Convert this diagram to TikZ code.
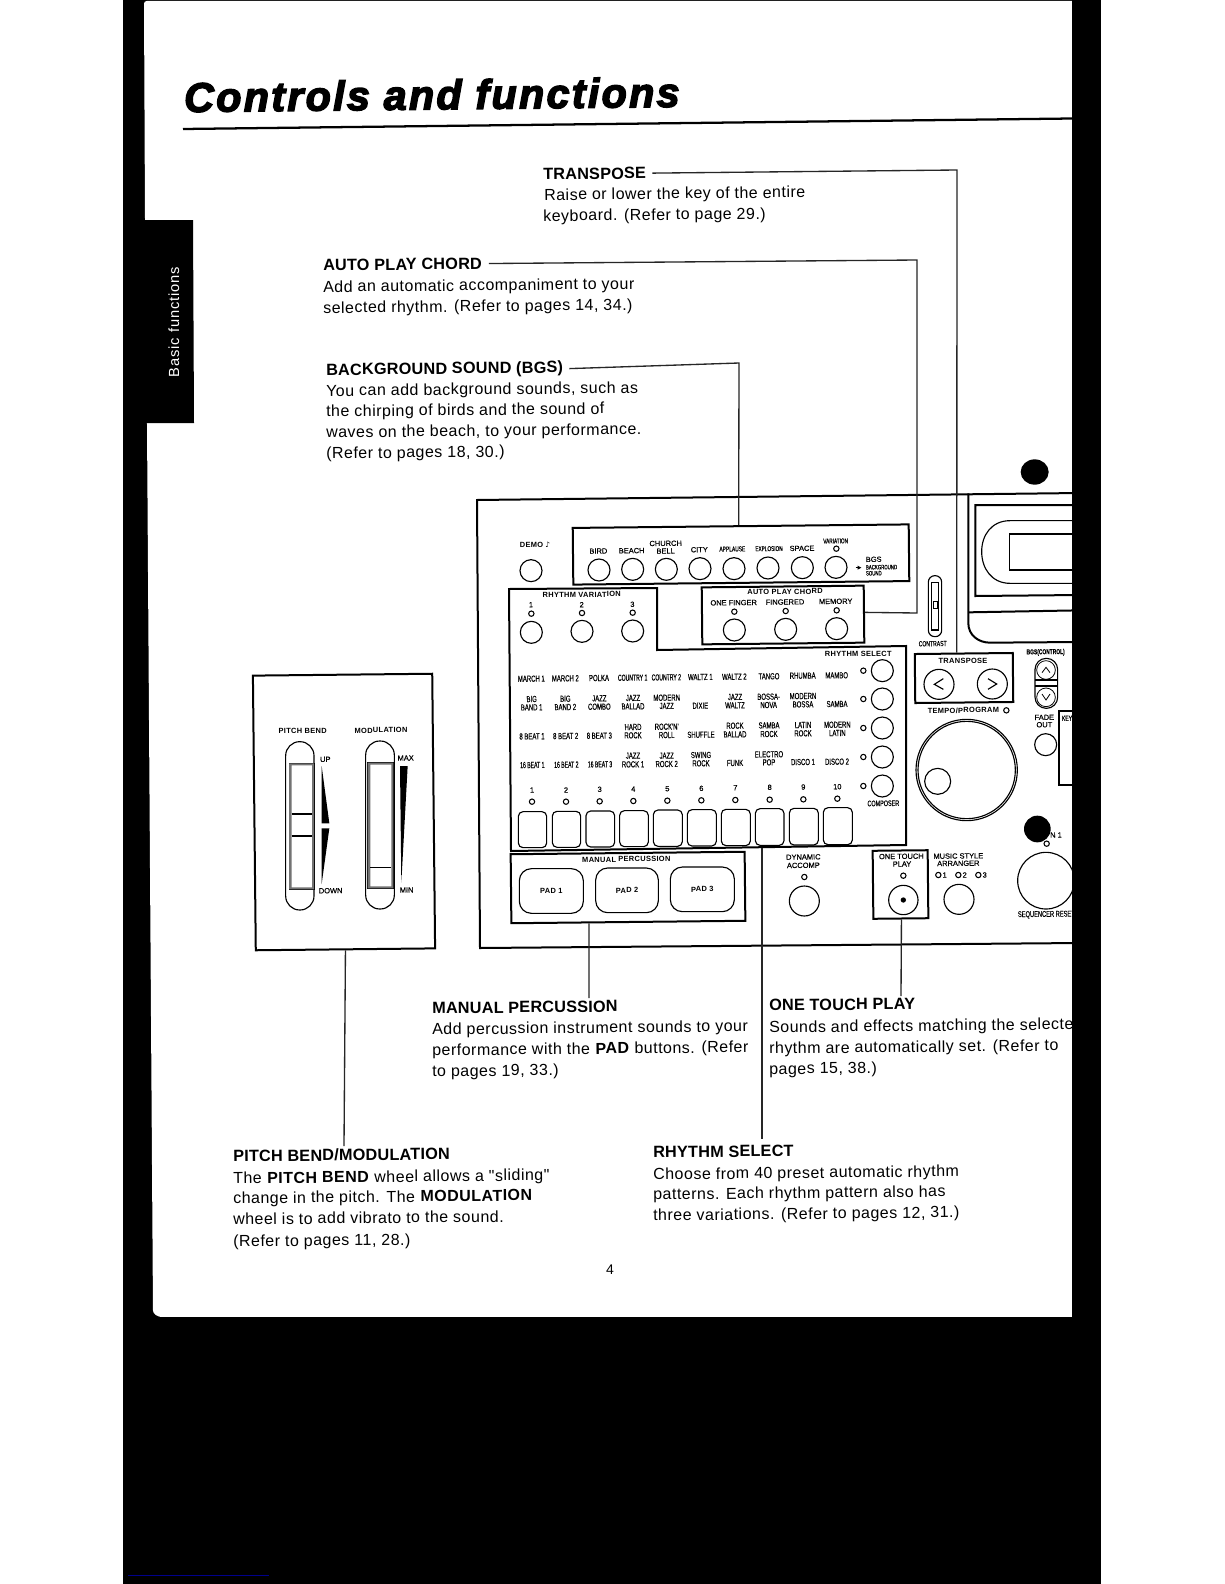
\documentclass[tikz,border=0pt]{standalone}
\usepackage{fontspec}
\usetikzlibrary{calc}
\setmainfont{Liberation Sans}
\newfontfamily\titlef[FakeBold=3.5,LetterSpace=5.5]{Liberation Sans Bold Italic}
\newfontfamily\bodyf[LetterSpace=3.1]{Liberation Sans}
\newfontfamily\headf[LetterSpace=1.2]{Liberation Sans}
\newfontfamily\semif[FakeBold=.5]{Liberation Sans}
\newfontfamily\smallf[LetterSpace=4]{Liberation Sans}
\newfontfamily\narrowf[FakeStretch=.68,FakeBold=.3]{Liberation Sans}
\newfontfamily\narrowerf[FakeStretch=.58,FakeBold=.3]{Liberation Sans}
\newfontfamily\tabf[LetterSpace=6]{Liberation Sans}
\newfontfamily\symf{DejaVu Sans}
\newcounter{nc}
\tikzset{
 bodytext/.style={anchor=base west,inner sep=0pt,rotate=.6,yshift=-.6pt,font=\fontsize{12pt}{14pt}\bodyf},
 headtext/.style={bodytext,font=\fontsize{12.2pt}{14pt}\headf\bfseries},
 tiny/.style={inner sep=0pt,rotate=.6,font=\fontsize{5.6pt}{6pt}\semif},
 tinyb/.style={inner sep=0pt,rotate=.6,font=\fontsize{5.6pt}{6pt}\smallf\bfseries},
 grid/.style={inner sep=0pt,rotate=.6,font=\fontsize{6.6pt}{7pt}\narrowf},
 gridn/.style={inner sep=0pt,rotate=.6,font=\fontsize{6.6pt}{7pt}\narrowerf},
 heavy/.style={line width=1.5pt,black},
 thin1/.style={line width=.85pt,black},
 conn/.style={line width=1pt,black!85},
 panelbox/.style={draw,line width=1.5pt,inner sep=0pt,rotate=.6},
 led/.style={line width=.8pt,draw=black,fill=white},
 btn/.style={line width=.85pt,draw=black,fill=white},
 zoomA/.style={shift={(470,490)},x=.25pt,y=-.25pt},
 zoomB/.style={shift={(470,760)},x=.25pt,y=-.25pt},
 zoomC/.style={shift={(900,450)},x=.25pt,y=-.25pt},
 zoomD/.style={shift={(240,660)},x=.25pt,y=-.25pt},
}
\newcommand\bl[3]{\stepcounter{nc}\node[bodytext] (b\arabic{nc}) at (#1,#2) {#3};}
\newcommand\tl[4][tiny]{\stepcounter{nc}\node[#1] (s\arabic{nc}) at (#2,#3) {#4};}
\begin{document}
\begin{tikzpicture}[x=.75pt,y=-.75pt]
\useasboundingbox (0,0) rectangle (1224,1584);
% page
\fill[white] (0,0) rectangle (1224,1584);
\fill[black] (123,0) rectangle (1101,1584);
\fill[white,rounded corners=2pt] (144,1) -- (1085,1) -- (1085,1330) -- (1085,1317) -- (159,1317) -- (153,1313) -- (147,424) -- (145,219) -- cycle;
\fill[black] (144,220) -- (193,220) -- (194,423) -- (145,423) -- cycle;
\node[inner sep=0pt,rotate=90,anchor=base,text=white,font=\fontsize{11pt}{12pt}\tabf] (tabtext) at (179,322) {Basic functions};
% title
\node[inner sep=0pt,anchor=base west,rotate=.6,font=\fontsize{31pt}{34pt}\titlef] (title) at (184,112) {Controls and functions};
\draw[line width=1.7pt] (183,129) -- (1072,118.5);

% text blocks
\node[headtext] (lTR) at (543,179) {TRANSPOSE};
\bl{544}{199.5}{Raise or lower the key of the entire}
\bl{543}{220.5}{keyboard. (Refer to page 29.)}
\node[headtext] (lAP) at (323,270) {AUTO PLAY CHORD};
\bl{323}{291.5}{Add an automatic accompaniment to your}
\bl{323}{312.5}{selected rhythm. (Refer to pages 14, 34.)}
\node[headtext] (lBG) at (326,374.5) {BACKGROUND SOUND (BGS)};
\bl{326}{395.5}{You can add background sounds, such as}
\bl{326}{416}{the chirping of birds and the sound of}
\bl{326}{437}{waves on the beach, to your performance.}
\bl{326}{458}{(Refer to pages 18, 30.)}
\node[headtext] (lMP) at (432,1013) {MANUAL PERCUSSION};
\bl{432}{1034}{Add percussion instrument sounds to your}
\bl{432}{1055}{performance with the \textbf{PAD} buttons. (Refer}
\bl{432}{1076}{to pages 19, 33.)}
\node[headtext] (lOT) at (769,1010) {ONE TOUCH PLAY};
\bl{769}{1032}{Sounds and effects matching the selecte}
\bl{769}{1053}{rhythm are automatically set. (Refer to}
\bl{769}{1073.5}{pages 15, 38.)}
\node[headtext] (lPB) at (233,1161) {PITCH BEND/MODULATION};
\bl{233}{1183}{The \textbf{PITCH BEND} wheel allows a "sliding"}
\bl{233}{1203}{change in the pitch. The \textbf{MODULATION}}
\bl{233}{1224}{wheel is to add vibrato to the sound.}
\bl{233}{1246}{(Refer to pages 11, 28.)}
\node[headtext] (lRS) at (653,1157) {RHYTHM SELECT};
\bl{653}{1179}{Choose from 40 preset automatic rhythm}
\bl{653}{1199}{patterns. Each rhythm pattern also has}
\bl{653}{1220}{three variations. (Refer to pages 12, 31.)}
\node[inner sep=0pt,font=\fontsize{10.5pt}{12pt}\selectfont] (pageno) at (610,1270) {4};

% main panel outline
\draw[heavy] (1080,493) -- (477,500) -- (480,948) -- (1080,943);
% boxes
\node[panelbox,minimum width=252pt,minimum height=42.5pt] (bgsbox) at (741,554.5) {};
\node[panelbox,minimum width=121.5pt,minimum height=42.75pt] (apcbox) at (783,615) {};
\node[panelbox,minimum width=175.5pt,minimum height=51.75pt] (mpbox) at (628,887.5) {};
\node[panelbox,minimum width=41.25pt,minimum height=51pt] (otbox) at (900.5,884.5) {};
\node[panelbox,minimum width=73.5pt,minimum height=36.75pt] (trbox) at (964,678) {};
\node[panelbox,minimum width=134.5pt,minimum height=206pt] (pbbox) at (344,812) {};
\draw[heavy] (509,589) -- (657,588) -- (657,650) -- (906,646) -- (906,845) -- (511,851) -- cycle;
\coordinate (rsedge) at (762,848);

% connectors
\coordinate (mpend) at (589,998);
\coordinate (otend) at (901,996);
\coordinate (pbend) at (344,1146);
\coordinate (rsend) at (762,1139);
\draw[conn] ([xshift=4.5pt]lTR.east) -- (957,170) -- ($(trbox.north west)!.43!(trbox.north east)$);
\draw[conn] ([xshift=5pt]lAP.east) -- (917,260) -- (917,613) -- ($(apcbox.north east)!.47!(apcbox.south east)$);
\draw[conn] ([xshift=4.5pt]lBG.east) -- (739,363) -- ($(bgsbox.north west)!.494!(bgsbox.north east)$);
\draw[conn] ($(mpbox.south west)!.333!(mpbox.south east)$) -- (mpend);
\draw[conn] ($(otbox.south west)!.51!(otbox.south east)$) -- (otend);
\draw[conn] (pbbox.south) -- (pbend);
\draw[conn] (rsedge) -- (rsend);

% upper controls (zoom coordinates)
\begin{scope}[zoomA]
\tl[tinyb]{195}{165}{DEMO {\symf ♪}}
\draw[btn] (183,242) circle (33);
\foreach \x/\y in {387/240,488/238,589/238,690/236,792/236,894/234,997/233,1098/232} \draw[btn] (\x,\y) circle (33);
\foreach \x/\y/\lab in {385/183/BIRD,485/182/BEACH,587/160/CHURCH,587/183/BELL,688/179/CITY,1211/208/BGS} {\tl{\x}{\y}{\lab}}
\node[inner sep=0pt,rotate=.6,font=\fontsize{5.4pt}{5pt}\narrowf] (ap) at (787,177) {APPLAUSE};
\node[inner sep=0pt,rotate=.6,font=\fontsize{5.2pt}{5pt}\narrowf] (ex) at (897,176) {EXPLOSION};
\tl{996}{175}{SPACE}
\node[inner sep=0pt,rotate=.6,font=\fontsize{5.2pt}{5pt}\narrowf] (va) at (1097,153) {VARIATION};
\draw[led] (1099,176) circle (8);
\draw[line width=.7pt] (1157,233) -- (1165,233);
\fill (1163,227) -- (1174,233) -- (1163,239) -- cycle;
\node[inner sep=0pt,anchor=west,rotate=.6,font=\fontsize{4.8pt}{5pt}\narrowf] (bg1) at (1187,232) {BACKGROUND};
\node[inner sep=0pt,anchor=west,rotate=.6,font=\fontsize{4.8pt}{5pt}\narrowf] (bg2) at (1187,250) {SOUND};
% rhythm variation
\tl[tinyb]{335}{314}{RHYTHM VARIATION}
\foreach \x/\y/\num/\ly/\by in {183/344/1/371/427,335/344/2/369/424,487/343/3/368/423} {
 \tl{\x}{\y}{\num}
 \draw[led] (\x+1,\ly) circle (8);
 \draw[btn] (\x+1,\by) circle (33);
}
% auto play chord
\tl[tinyb]{945}{305}{AUTO PLAY CHORD}
\foreach \x/\y/\lab/\lx/\ly/\by in {791/338/ONE FINGER/793/365/420,945/336/FINGERED/947/363/418,1097/334/MEMORY/1100/361/416} {
 \tl{\x}{\y}{\lab}
 \draw[led] (\lx,\ly) circle (8);
 \draw[btn] (\lx,\by) circle (33);
}
% rhythm select
\tl[tinyb]{1165}{492}{RHYTHM SELECT}
\foreach \y in {542,627,714,801,888} {
 \draw[led] (1180,\y) circle (8);
 \draw[btn] (1237,\y) circle (33);
}
\node[inner sep=0pt,rotate=.6,font=\fontsize{6pt}{6pt}\narrowf] (compo) at (1240,940) {COMPOSER};
\foreach \x/\y/\lab in {488/563/COUNTRY 1,589/562/COUNTRY 2,187/825/16 BEAT 1,289/824/16 BEAT 2,390/823/16 BEAT 3}
 {\tl[gridn]{\x}{\y}{\lab}}
\foreach \x/\y/\lab in {
184/566/MARCH 1,286/565/MARCH 2,387/564/POLKA,691/561/WALTZ 1,793/560/WALTZ 2,897/559/TANGO,998/557/RHUMBA,1100/556/MAMBO,
185/627/BIG,185/652/BAND 1,286/626/BIG,286/651/BAND 2,388/625/JAZZ,388/650/COMBO,489/624/JAZZ,489/649/BALLAD,590/623/MODERN,590/648/JAZZ,691/647/DIXIE,795/621/JAZZ,795/646/WALTZ,896/620/BOSSA-,896/645/NOVA,999/618/MODERN,999/643/BOSSA,1101/642/SAMBA,
186/739/8 BEAT 1,287/738/8 BEAT 2,388/737/8 BEAT 3,489/711/HARD,489/736/ROCK,590/710/ROCK'N',590/735/ROLL,693/734/SHUFFLE,795/707/ROCK,795/733/BALLAD,897/706/SAMBA,897/732/ROCK,999/705/LATIN,999/730/ROCK,1102/704/MODERN,1102/729/LATIN,
489/797/JAZZ,489/823/ROCK 1,590/797/JAZZ,590/822/ROCK 2,693/795/SWING,693/820/ROCK,795/819/FUNK,897/793/ELECTRO,897/817/POP,999/816/DISCO 1,1101/815/DISCO 2}
 {\tl[grid]{\x}{\y}{\lab}}
\foreach \x/\y/\num/\ly in {186/900/1/935,288/900/2/935,389/898/3/934,490/897/4/933,592/896/5/932,694/895/6/931,796/893/7/930,899/892/8/929,1000/891/9/928,1102/890/10/926} {
 \tl{\x}{\y}{\num}
 \draw[led] (\x,\ly) circle (8);
}
\end{scope}
% lower controls
\begin{scope}[zoomB]
\foreach \xa/\xb/\ya/\yb in {145/230/155/263,247/332/154/262,348/434/153/261,449/535/152/260,550/637/150/259,652/739/149/258,754/841/148/257,856/942/146/256,958/1045/145/255,1060/1147/143/254}
 {\draw[thin1,rounded corners=3.5pt] (\xa,\ya) rectangle (\xb,\yb);}
\tl[tinyb]{469}{298}{MANUAL PERCUSSION}
\foreach \xa/\xb/\ya/\yb/\lab in {148/340/326/460/PAD 1,377/565/324/458/PAD 2,601/793/321/455/PAD 3} {
 \draw[thin1,rounded corners=9pt] (\xa,\ya) rectangle (\xb,\yb);
 \tl[tinyb]{\xa/2+\xb/2}{\ya/2+\yb/2}{\lab}
}
\tl{1000}{291}{DYNAMIC}
\tl{1000}{316}{ACCOMP}
\draw[led] (1003,351) circle (8);
\draw[btn] (1003,423) circle (45);
\tl{1294}{289}{ONE TOUCH}
\tl{1296}{312}{PLAY}
\draw[led] (1300,347) circle (8);
\draw[btn] (1300,420) circle (44);
\fill (1300,420) circle (8);
\end{scope}
% right side
\begin{scope}[zoomC]
\fill (404,66) ellipse (42 and 38);
% display
\draw[heavy] (205,130) -- (205,520) .. controls (205,555) and (235,578) .. (270,578) -- (540,576);
\draw[heavy] (205,487) -- (540,481);
\draw[heavy] (540,165) -- (226,165) -- (226,438) -- (540,435);
\draw[thin1] (540,212) -- (330,212) .. controls (275,212) and (245,255) .. (245,305) .. controls (245,355) and (275,400) .. (330,400) -- (540,400);
\draw[thin1] (540,252) -- (328,252) -- (328,360) -- (540,360);
% contrast
\draw[thin1,rounded corners=4.8pt] (85,377) rectangle (125,560);
\draw[line width=1.1pt] (95,398) rectangle (115,540);
\draw[thin1,fill=white] (100,454) rectangle (114,476);
\node[inner sep=0pt,rotate=.6,font=\fontsize{5.6pt}{6pt}\narrowf] (contr) at (98,581) {CONTRAST};
% transpose
\tl[tinyb]{189}{633}{TRANSPOSE}
\draw[btn] (117,703) circle (45);
\draw[btn] (277,702) circle (45);
\draw[thin1] (130,686) -- (103,703) -- (130,718);
\draw[thin1] (264,686) -- (290,702) -- (264,718);
\tl[tinyb]{190}{781}{TEMPO/PROGRAM}
\draw[led] (319,781) circle (8);
% dial
\draw[thin1] (200,960) circle (152);
\draw[thin1] (200,960) circle (146);
\draw[btn] (113,994) circle (39);
% rocker
\node[inner sep=0pt,rotate=.6,font=\fontsize{5.4pt}{5pt}\narrowf\bfseries] (bgsc) at (437,607) {BGS(CONTROL)};
\draw[thin1,rounded corners=8.4pt] (405,625) rectangle (473,775);
\draw[line width=.6pt] (438,660) circle (28);
\draw[line width=.6pt] (438,742) circle (28);
\fill[white] (408,692) rectangle (470,708);
\draw[line width=1pt] (406,690) -- (472,690);
\draw[line width=1pt] (406,708) -- (472,708);
\draw[line width=.6pt] (426,668) -- (438,652) -- (450,668);
\draw[line width=.6pt] (426,732) -- (438,750) -- (450,732);
\tl{433}{802}{FADE}
\tl{433}{824}{OUT}
\draw[btn] (437,884) circle (33);
% key box
\draw[heavy] (540,783) -- (476,783) -- (476,1005) -- (540,1005);
\node[inner sep=0pt,anchor=west,rotate=.6,font=\fontsize{5.6pt}{6pt}\narrowf] (keylbl) at (485,805) {KEY};
% seq
\fill (412,1137) circle (40);
\tl{468}{1155}{N 1}
\draw[led] (440,1181) circle (8);
\draw[btn] (438,1292) circle (85);
\node[inner sep=0pt,anchor=west,rotate=.6,font=\fontsize{6.3pt}{6pt}\narrowf] (seq) at (353,1395) {SEQUENCER RESET};
% music style
\tl{175}{1218}{MUSIC STYLE}
\tl{175}{1240}{ARRANGER}
\foreach \x/\num in {115/1,175/2,235/3} {
 \draw[led] (\x,1275) circle (8);
 \tl{\x+19}{1275}{\num}
}
\draw[btn] (177,1348) circle (45);
\end{scope}
% pitch / modulation
\begin{scope}[zoomD]
\tl[tinyb]{188}{213}{PITCH BEND}
\tl[tinyb]{423}{211}{MODULATION}
\tl{256}{298}{UP}
\tl{497}{294}{MAX}
\tl{272}{692}{DOWN}
\tl{500}{690}{MIN}
\draw[thin1,rounded corners=10.5pt] (137,245) rectangle (222,750);
\draw[thin1,rounded corners=10.5pt] (377,243) rectangle (463,747);
\foreach \xa/\xb/\ya/\yb in {147/222/310/688,383/460/308/685} {
 \draw[line width=.7pt,fill=white] (\xa,\ya) rectangle (\xb,\yb);
 \fill[black!55,even odd rule] (\xa,\ya) rectangle (\xb,\yb) (\xa+8,\ya+6) rectangle (\xb-6,\yb-6);
}
\draw[thin1] (155,462) -- (216,462);
\draw[thin1] (155,528) -- (216,528);
\draw[thin1] (391,622) -- (454,622);
\fill (245,318) -- (245,490) -- (268,490) -- cycle;
\fill (245,505) -- (268,505) -- (245,672) -- cycle;
\fill (480,318) -- (503,318) -- (484,668) -- cycle;
\end{scope}
% right black band and blue line on top
\fill[black] (1072,0) rectangle (1101,1584);
\fill[black] (123,1317) rectangle (1101,1584);
\definecolor{bluelineC}{RGB}{0,0,139}
\draw[line width=.75pt,bluelineC] (128,1575) -- (269,1575);
\end{tikzpicture}
\end{document}
